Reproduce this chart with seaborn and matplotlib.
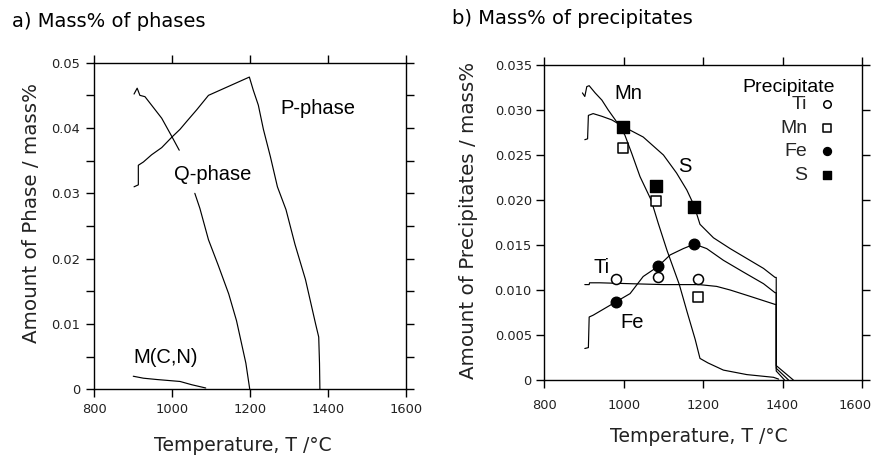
import numpy as np
import pandas as pd
import matplotlib
matplotlib.use("Agg")
import matplotlib.pyplot as plt
import matplotlib.transforms as mtransforms
import seaborn as sns

# ---------------- panel a) Mass% of phases ----------------
p_T = [902, 913, 913, 926, 947, 973, 999, 1020, 1037, 1063, 1093, 1123, 1198,
       1208, 1221, 1234, 1252, 1270, 1292, 1315, 1342, 1368, 1376, 1378, 1379]
p_v = [0.0310, 0.0313, 0.0343, 0.0348, 0.0359, 0.0370, 0.0386, 0.0398, 0.0410,
       0.0428, 0.0450, 0.0458, 0.0478, 0.0458, 0.0435, 0.0398, 0.0356, 0.0310,
       0.0275, 0.0222, 0.0168, 0.0100, 0.0080, 0.0040, 0.0]

q1_T = [902, 910, 917, 930, 947, 973, 999, 1018]
q1_v = [0.0452, 0.0461, 0.0450, 0.0448, 0.0435, 0.0415, 0.0387, 0.0366]
q2_T = [1058, 1071, 1093, 1118, 1145, 1165, 1189, 1199]
q2_v = [0.0300, 0.0277, 0.0229, 0.0190, 0.0146, 0.0105, 0.0040, 0.0]

mcn_T = [900, 926, 960, 1020, 1050, 1086]
mcn_v = [0.0020, 0.0017, 0.0015, 0.0012, 0.0007, 0.0002]

# ---------------- panel b) Mass% of precipitates ----------------
mn_T = [896, 902, 907, 913, 928, 945, 961, 982, 1003, 1020, 1041, 1069, 1087,
        1109, 1140, 1160, 1180, 1192, 1212, 1251, 1310, 1377, 1390]
mn_v = [0.0319, 0.0315, 0.0326, 0.0327, 0.0319, 0.0311, 0.0300, 0.0287, 0.0272,
        0.0252, 0.0226, 0.0200, 0.0174, 0.0144, 0.0106, 0.0075, 0.0045, 0.0024,
        0.0019, 0.0011, 0.0006, 0.0003, 0.0001]

s_T = [902, 909, 911, 923, 945, 970, 997, 1049, 1100, 1133, 1159, 1177, 1192,
       1226, 1268, 1310, 1352, 1381, 1384, 1384, 1427]
s_v = [0.0267, 0.0268, 0.0294, 0.0296, 0.0293, 0.0289, 0.0282, 0.0270, 0.0250,
       0.0230, 0.0211, 0.0194, 0.0173, 0.0158, 0.0146, 0.0135, 0.0124, 0.0114,
       0.0114, 0.0016, 0.0]

fe_T = [902, 911, 913, 923, 981, 1016, 1049, 1086, 1117, 1150, 1178, 1209,
        1251, 1301, 1352, 1381, 1384, 1384, 1415]
fe_v = [0.0035, 0.0036, 0.0070, 0.0072, 0.0087, 0.0096, 0.0115, 0.0126, 0.0139,
        0.0146, 0.0151, 0.0146, 0.0133, 0.0120, 0.0107, 0.0097, 0.0097, 0.0013, 0.0]

ti_T = [902, 913, 914, 940, 1016, 1100, 1190, 1234, 1268, 1318, 1381, 1384, 1384, 1405]
ti_v = [0.0106, 0.0106, 0.0108, 0.0108, 0.0107, 0.0106, 0.0106, 0.0104, 0.0100,
        0.0093, 0.0084, 0.0084, 0.0010, 0.0]

# measured precipitates (markers)
ti_pt_T = [981, 1087, 1187]
ti_pt_v = [0.01119, 0.01150, 0.01120]
mn_pt_T = [998, 1081, 1187]
mn_pt_v = [0.02578, 0.01985, 0.00919]
fe_pt_T = [981, 1086, 1178]
fe_pt_v = [0.00867, 0.01262, 0.01511]
s_pt_T = [997, 1081, 1176]
s_pt_v = [0.02815, 0.02156, 0.01926]

# ticks / labels
x_ticks = [800, 1000, 1200, 1400, 1600]
ya_ticks = [0, 0.005, 0.01, 0.015, 0.02, 0.025, 0.03, 0.035, 0.04, 0.045, 0.05]
ya_labels = ["0", "", "0.01", "", "0.02", "", "0.03", "", "0.04", "", "0.05"]
yb_ticks = [0, 0.005, 0.01, 0.015, 0.02, 0.025, 0.03, 0.035]
yb_labels = ["0", "0.005", "0.010", "0.015", "0.020", "0.025", "0.030", "0.035"]

# ---------------------------------------------------------------
sns.set_theme(style="ticks")
plt.rcParams["font.family"] = ["DejaVu Sans"]
plt.rcParams["axes.linewidth"] = 1.0

W, H = 874, 457
fig = plt.figure(figsize=(W / 100, H / 100), dpi=100)


def fig_rect(l, t, r, b):
    return [l / W, 1 - b / H, (r - l) / W, (b - t) / H]


axA = fig.add_axes(fig_rect(94.3, 62.7, 406, 389.3))
axB = fig.add_axes(fig_rect(544.3, 65, 862, 380))


def long_df(curves):
    frames = [pd.DataFrame({"T": T, "v": v, "curve": name})
              for name, (T, v) in curves.items()]
    return pd.concat(frames, ignore_index=True)


dfA = long_df({"P": (p_T, p_v), "Q1": (q1_T, q1_v), "Q2": (q2_T, q2_v),
               "MCN": (mcn_T, mcn_v)})
dfB = long_df({"Mn": (mn_T, mn_v), "S": (s_T, s_v), "Fe": (fe_T, fe_v),
               "Ti": (ti_T, ti_v)})

LW = 0.85
sns.lineplot(data=dfA, x="T", y="v", units="curve", estimator=None, sort=False,
             color="black", linewidth=LW, ax=axA)
sns.lineplot(data=dfB, x="T", y="v", units="curve", estimator=None, sort=False,
             color="black", linewidth=LW, ax=axB)

# markers
MS_C, MS_S = 52, 58
sns.scatterplot(x=ti_pt_T, y=ti_pt_v, marker="o", s=MS_C, color="white",
                edgecolor="black", linewidth=1.1, label="Ti", ax=axB, zorder=5)
sns.scatterplot(x=mn_pt_T, y=mn_pt_v, marker="s", s=MS_S, color="white",
                edgecolor="black", linewidth=1.1, label="Mn", ax=axB, zorder=5)
sns.scatterplot(x=fe_pt_T, y=fe_pt_v, marker="o", s=MS_C + 6, color="black",
                edgecolor="black", linewidth=1.0, label="Fe", ax=axB, zorder=5)
sns.scatterplot(x=s_pt_T, y=s_pt_v, marker="s", s=MS_S + 8, color="black",
                edgecolor="black", linewidth=1.0, label="S", ax=axB, zorder=5)


def style_axes(ax, ylim, yticks, ylabels, xpad, ypad):
    ax.set_xlim(800, 1600)
    ax.set_ylim(*ylim)
    ax.set_xticks(x_ticks)
    ax.set_xticklabels([str(t) for t in x_ticks])
    ax.set_yticks(yticks)
    ax.set_yticklabels(ylabels)
    ax.tick_params(axis="both", which="both", direction="out", length=5.5,
                   width=1.0, color="black", top=True, right=True,
                   labeltop=False, labelright=False, labelsize=9.4,
                   labelcolor="#222222")
    ax.tick_params(axis="x", pad=xpad)
    ax.tick_params(axis="y", pad=ypad)
    for sp in ax.spines.values():
        sp.set_visible(True)
        sp.set_linewidth(1.0)
        sp.set_color("black")
    ax.grid(False)
    ax.set_facecolor("white")


style_axes(axA, (0, 0.05), ya_ticks, ya_labels, xpad=4.5, ypad=4.5)
style_axes(axB, (0, 0.035), yb_ticks, yb_labels, xpad=8.5, ypad=3.5)

# the last x tick label of panel b sits at the figure edge: keep it inside
last_lab = axB.get_xticklabels()[-1]
last_lab.set_horizontalalignment("right")
last_lab.set_transform(last_lab.get_transform() +
                       mtransforms.ScaledTranslation(10 / 100, 0, fig.dpi_scale_trans))

AXLAB = dict(fontsize=13.5, color="#222222", family="DejaVu Sans")
YLAB = dict(fontsize=14.3, color="#222222", family="DejaVu Sans")

axA.set_xlabel("Temperature, T /°C", **AXLAB)
axA.xaxis.set_label_coords(0.478, -0.142)
axA.set_ylabel("Amount of Phase / mass%", **YLAB)
axA.yaxis.set_label_coords(-0.170, 0.541)

axB.set_xlabel("Temperature, T /°C", **AXLAB)
axB.xaxis.set_label_coords(0.487, -0.150)
axB.set_ylabel("Amount of Precipitates / mass%", **YLAB)
axB.yaxis.set_label_coords(-0.209, 0.505)

# curve labels
CL = dict(family="Liberation Sans", fontsize=14.5, color="black",
          ha="center", va="baseline")
axA.text(1373, 0.0421, "P-phase", **CL)
axA.text(1103, 0.0320, "Q-phase", **CL)
axA.text(983, 0.0040, "M(C,N)", **CL)

axB.text(1012, 0.0312, "Mn", **CL)
axB.text(1154, 0.02315, "S", **CL)
axB.text(945, 0.0119, "Ti", **CL)
axB.text(1020, 0.00574, "Fe", **CL)

# legend
axB.text(1300, 0.0320, "Precipitate", family="Liberation Sans", fontsize=14,
         color="black", ha="left", va="baseline")
axB.legend(loc="upper left", bbox_to_anchor=(0.742, 0.902), frameon=False,
           markerfirst=False, borderpad=0, borderaxespad=0, handletextpad=0.5,
           handlelength=1.0, labelspacing=0.3, markerscale=0.75,
           scatterpoints=1, prop={"family": "Liberation Sans", "size": 14})

# panel titles
TT = dict(fontsize=14, color="black", family="DejaVu Sans", ha="left",
          va="baseline")
fig.text(11.7 / W, 1 - 26.7 / H, "a) Mass% of phases", **TT)
fig.text(451.7 / W, 1 - 24 / H, "b) Mass% of precipitates", **TT)

fig.savefig("out.png", dpi=100, facecolor="white")
